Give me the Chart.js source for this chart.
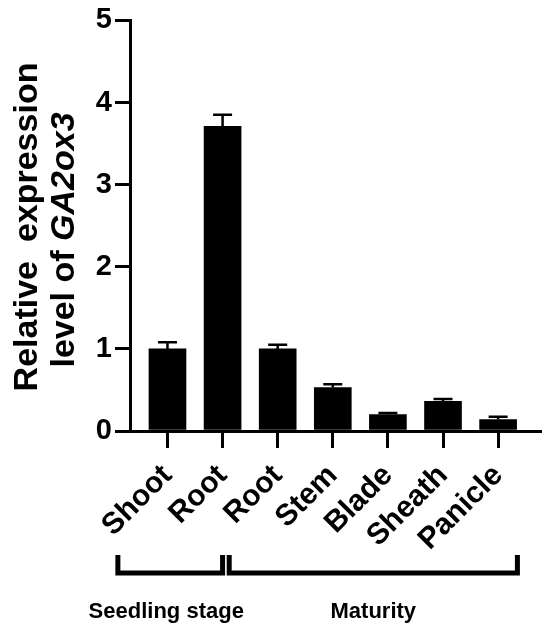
<!DOCTYPE html>
<html>
<head>
<title>GA2ox3 expression</title>
<style>
  body { margin: 0; background: #fff; }
</style>
</head>
<body>
<script src="https://cdn.jsdelivr.net/npm/chart.js@4/dist/chart.umd.min.js"></script>
<canvas id="myChart" width="550" height="632"></canvas>

<script type="text/javascript">
// tissue names, mean relative expression, SEM
const categories = ['Shoot', 'Root', 'Root', 'Stem', 'Blade', 'Sheath', 'Panicle'];
const values = [1.0, 3.71, 1.0, 0.53, 0.2, 0.36, 0.14];
const errors = [0.08, 0.14, 0.05, 0.04, 0.02, 0.03, 0.035];
const yTicks = [0, 1, 2, 3, 4, 5];

// stage brackets under the x labels (in category units)
const groupLabels = ['Seedling stage', 'Maturity'];
const groupFrom = [-0.9, 1.12];
const groupTo = [1.0, 6.35];

const FONT = '"Liberation Sans", Arial, sans-serif';

// error bars, upward only
const errorBarPlugin = {
  id: 'errorBars',
  afterDatasetsDraw(chart) {
    const ctx = chart.ctx;
    const xs = chart.scales.x, ys = chart.scales.y;
    ctx.save();
    ctx.strokeStyle = '#000';
    ctx.lineWidth = 2.5;
    values.forEach((v, i) => {
      const x = xs.getPixelForValue(i);
      const y0 = ys.getPixelForValue(v);
      const y1 = ys.getPixelForValue(v + errors[i]);
      ctx.beginPath();
      ctx.moveTo(x, y0);
      ctx.lineTo(x, y1);
      ctx.moveTo(x - 9.5, y1);
      ctx.lineTo(x + 9.5, y1);
      ctx.stroke();
    });
    ctx.restore();
  }
};

// y title with italic gene name + group brackets
const decorPlugin = {
  id: 'decor',
  afterDraw(chart) {
    const ctx = chart.ctx;
    const xs = chart.scales.x;
    ctx.save();
    ctx.fillStyle = '#000';

    // y axis title, two lines
    ctx.save();
    ctx.translate(37, 227);
    ctx.rotate(-Math.PI / 2);
    ctx.font = 'bold 34px ' + FONT;
    ctx.textAlign = 'center';
    ctx.textBaseline = 'alphabetic';
    ctx.fillText('Relative  expression', 0, 0);
    ctx.restore();

    ctx.save();
    ctx.translate(74, 240);
    ctx.rotate(-Math.PI / 2);
    ctx.textBaseline = 'alphabetic';
    ctx.textAlign = 'left';
    const part1 = 'level of ', part2 = 'GA2ox3';
    ctx.font = 'bold 34px ' + FONT;
    const w1 = ctx.measureText(part1).width;
    ctx.font = 'italic bold 34px ' + FONT;
    const w2 = ctx.measureText(part2).width;
    let sx = -(w1 + w2) / 2;
    ctx.font = 'bold 34px ' + FONT;
    ctx.fillText(part1, sx, 0);
    ctx.font = 'italic bold 34px ' + FONT;
    ctx.fillText(part2, sx + w1, 0);
    ctx.restore();

    // brackets
    ctx.strokeStyle = '#000';
    ctx.lineWidth = 5;
    ctx.lineJoin = 'miter';
    ctx.font = 'bold 22px ' + FONT;
    ctx.textAlign = 'center';
    ctx.textBaseline = 'middle';
    groupLabels.forEach((lab, i) => {
      const a = xs.getPixelForValue(groupFrom[i]);
      const b = xs.getPixelForValue(groupTo[i]);
      ctx.beginPath();
      ctx.moveTo(a, 555);
      ctx.lineTo(a, 573);
      ctx.lineTo(b, 573);
      ctx.lineTo(b, 555);
      ctx.stroke();
      ctx.fillText(lab, (a + b) / 2 - (i === 0 ? 4 : 0), 612);
    });
    ctx.restore();
  }
};

const data = {
  datasets: [{
    data: categories.map((c, i) => ({ x: i, y: values[i] })),
    backgroundColor: '#000',
    borderWidth: 0,
    barThickness: 37
  }]
};

const config = {
  type: 'bar',
  data: data,
  options: {
    responsive: false,
    animation: false,
    devicePixelRatio: 1,
    layout: { padding: { left: 0, top: 20, right: 10, bottom: 0 } },
    plugins: {
      legend: { display: false },
      tooltip: { enabled: false }
    },
    scales: {
      x: {
        type: 'linear',
        offset: false,
        min: -0.68,
        max: 6.76,
        afterBuildTicks(scale) {
          scale.ticks = categories.map((c, i) => ({ value: i }));
        },
        afterFit(scale) { scale.height = 201; },
        ticks: {
          callback: (v) => categories[v],
          color: '#000',
          font: { family: FONT, size: 30, weight: 'bold' },
          minRotation: 45,
          maxRotation: 45,
          autoSkip: false,
          padding: 10
        },
        grid: { offset: false, drawOnChartArea: false, tickLength: 17, color: '#000', lineWidth: 3 },
        border: { display: true, color: '#000', width: 3 }
      },
      y: {
        min: 0,
        max: 5,
        afterBuildTicks(scale) {
          scale.ticks = yTicks.map(v => ({ value: v }));
        },
        afterFit(scale) { scale.width = 130; },
        ticks: {
          color: '#000',
          font: { family: FONT, size: 29, weight: 'bold' },
          padding: 3
        },
        grid: { drawOnChartArea: false, tickLength: 15, color: '#000', lineWidth: 3 },
        border: { display: true, color: '#000', width: 3 }
      }
    }
  },
  plugins: [errorBarPlugin, decorPlugin]
};

const ctx = document.getElementById('myChart');
const myChart = new Chart(ctx, config);
</script>
</body>
</html>
